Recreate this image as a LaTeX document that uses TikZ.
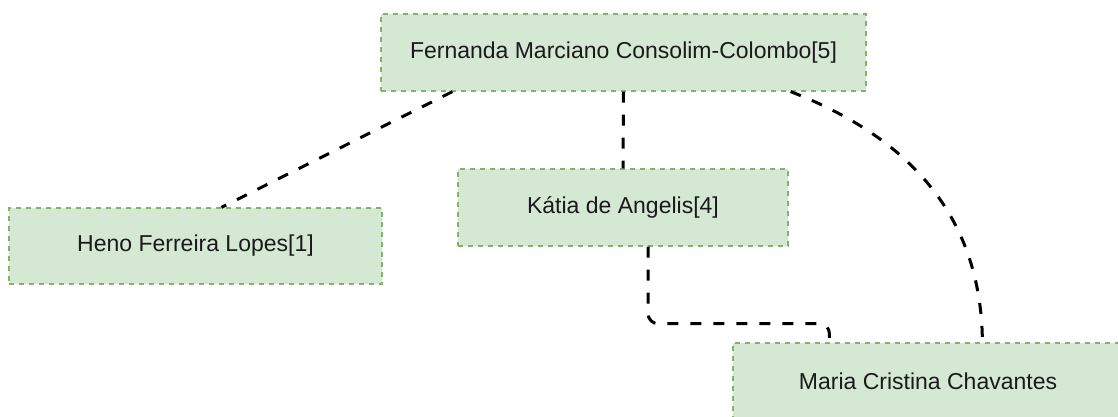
\documentclass[tikz,border=0pt]{standalone}
\usepackage{fontspec}
\setmainfont{Liberation Sans}
\definecolor{boxfill}{HTML}{D5E8D4}
\definecolor{boxline}{HTML}{82B366}
\definecolor{txt}{HTML}{1A1A1A}
\begin{document}
\begin{tikzpicture}[x=1pt,y=-1pt,
  person/.style={draw=boxline, fill=boxfill, line width=1.2pt, dash pattern=on 5pt off 5pt,
    inner sep=0pt, text=txt, font=\fontsize{23}{27}\selectfont},
  link/.style={draw=black, line width=3pt, dash pattern=on 11pt off 12pt}]
\clip (0,0) rectangle (1118,416);
\node[person, minimum width=485pt, minimum height=77pt] (fer) at (623.5,52.5) {Fernanda Marciano Consolim-Colombo[5]};
\node[person, minimum width=373pt, minimum height=76pt] (heno) at (195.5,246) {Heno Ferreira Lopes[1]};
\node[person, minimum width=330pt, minimum height=77pt] (kat) at (623,207.5) {Kátia de Angelis[4]};
\node[person, minimum width=410pt, minimum height=77pt] (mar) at (938,381.5) {\hspace*{-20pt}Maria Cristina Chavantes};
\draw[link] ([xshift=72pt]fer.south west) -- ([xshift=213pt]heno.north west);
\draw[link] (fer.south) -- (kat.north);
\draw[link] ([xshift=-76pt]fer.south east) .. controls +(98,38) and +(-1,-143) .. ([xshift=250pt]mar.north west);
\draw[link, rounded corners=10pt] ([xshift=25pt]kat.south) -- ++(0,77) -| ([xshift=97pt]mar.north west);
\end{tikzpicture}
\end{document}
